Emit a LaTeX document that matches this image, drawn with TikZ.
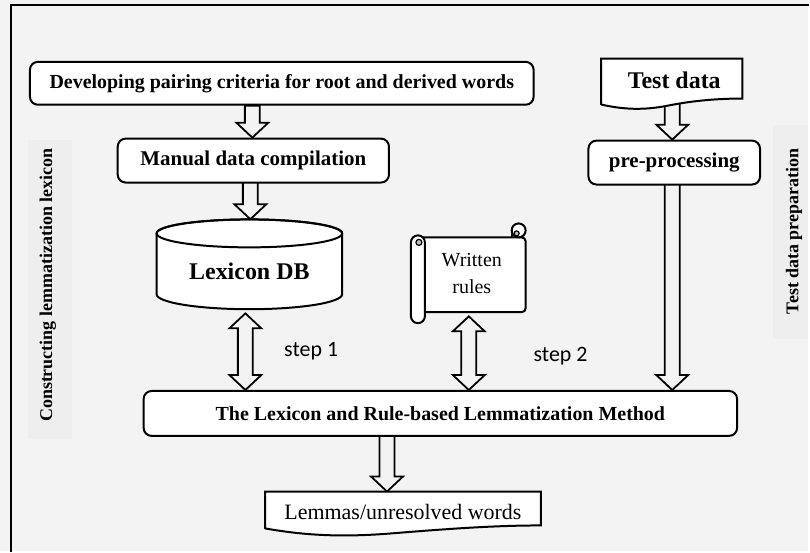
\documentclass[tikz,border=0pt]{standalone}
\usepackage{fontspec}
\setmainfont{Liberation Serif}
\newfontfamily\stepfont{Carlito}
\usetikzlibrary{calc}
\pgfdeclarelayer{bglayer}
\pgfdeclarelayer{arrlayer}
\pgfsetlayers{bglayer,arrlayer,main}
\definecolor{bgc}{HTML}{F3F3F3}
\definecolor{lblc}{HTML}{EEEEEE}
\tikzset{
  boxline/.style={draw=black, line width=2},
  mainbox/.style={boxline, rounded corners=8, fill=white, inner sep=0pt},
  blockarrow/.style={draw=black, line width=1.8, fill=bgc, line join=miter},
  sidelabel/.style={rotate=90, font=\bfseries\fontsize{18}{20}\selectfont},
  steplabel/.style={font=\stepfont\fontsize{22}{26}\selectfont},
}
% single-headed vertical block arrow from #1 down to tip #2
\newcommand{\blockdown}[2]{%
  \begin{pgfonlayer}{arrlayer}
  \draw[blockarrow] let \p1=(#1), \p2=(#2) in
    (\x1-7.5pt,\y1) -- (\x1+7.5pt,\y1) -- (\x1+7.5pt,\y2+15pt) -- (\x1+16pt,\y2+15pt)
    -- (\x1,\y2) -- (\x1-16pt,\y2+15pt) -- (\x1-7.5pt,\y2+15pt) -- cycle;
  \end{pgfonlayer}}
% double-headed vertical block arrow between tips #1 (top) and #2 (bottom)
\newcommand{\blockboth}[2]{%
  \begin{pgfonlayer}{arrlayer}
  \draw[blockarrow] let \p1=(#1), \p2=(#2) in
    (\x1,\y1) -- (\x1+16pt,\y1-15pt) -- (\x1+7.5pt,\y1-15pt) -- (\x1+7.5pt,\y2+15pt)
    -- (\x1+16pt,\y2+15pt) -- (\x1,\y2) -- (\x1-16pt,\y2+15pt) -- (\x1-7.5pt,\y2+15pt)
    -- (\x1-7.5pt,\y1-15pt) -- (\x1-16pt,\y1-15pt) -- cycle;
  \end{pgfonlayer}}
\begin{document}
\begin{tikzpicture}[x=1pt,y=-1pt]
\begin{pgfonlayer}{bglayer}
  \fill[bgc] (0,0) rectangle (810,552);
  \fill[lblc] (28,140) rectangle (72,440);
  \fill[lblc] (775,125) rectangle (810,340);
  \draw[line width=2.2] (11,553) -- (11,5) -- (811,5);
\end{pgfonlayer}
\useasboundingbox (0,0) rectangle (810,552);

% x positions of the arrows
\coordinate (xa) at (253,0);
\coordinate (xb) at (674,0);
\coordinate (xc) at (251,0);
\coordinate (xd) at (246,0);
\coordinate (xe) at (470,0);
\coordinate (xf) at (388,0);

% boxes
\node[mainbox, minimum width=505, minimum height=43,
      font=\bfseries\fontsize{20}{24}\selectfont] (dev) at (282.5,83.5)
      {Developing pairing criteria for root and derived words};
\node[mainbox, minimum width=272, minimum height=44,
      font=\bfseries\fontsize{21}{24}\selectfont] (man) at (254,161)
      {Manual data compilation};
\node[mainbox, minimum width=172, minimum height=44,
      font=\bfseries\fontsize{21}{24}\selectfont] (pre) at (676,163)
      {pre-processing};
\node[mainbox, minimum width=595, minimum height=45,
      font=\bfseries\fontsize{20}{24}\selectfont] (meth) at (441.5,414.5)
      {The Lexicon and Rule-based Lemmatization Method};

% Test data (document shape)
\node[inner sep=0, minimum width=141, minimum height=46] (test) at (673.5,82) {};
\draw[boxline, fill=white] (test.south west) -- (test.north west) -- (test.north east)
  -- ($(test.north east)+(0,40)$)
  .. controls ($(test.north east)+(-24,40)$) and ($(test.north east)+(-49,42)$) .. ($(test.north east)+(-74,47)$)
  .. controls ($(test.north east)+(-99,52)$) and ($(test.north west)+(22,51)$) .. ($(test.north west)+(0,46)$) -- cycle;
\node[font=\bfseries\fontsize{24}{28}\selectfont] (testlbl) at (676,81) {Test data};

% Lemmas (document shape)
\node[inner sep=0, minimum width=276, minimum height=37] (lem) at (404,511.5) {};
\draw[boxline, fill=white] (lem.south west) -- (lem.north west) -- (lem.north east)
  -- ($(lem.north east)+(0,34)$)
  .. controls ($(lem.north east)+(-50,34)$) and ($(lem.north east)+(-100,38)$) .. ($(lem.north east)+(-150,42)$)
  .. controls ($(lem.north east)+(-200,46)$) and ($(lem.north west)+(40,44)$) .. ($(lem.north west)+(0,37)$) -- cycle;
\node[font=\fontsize{22}{26}\selectfont] (lemlbl) at (404,513) {Lemmas/unresolved words};

% Lexicon DB (cylinder)
\node[inner sep=0, minimum width=186, minimum height=90] (lex) at (250,265) {};
\draw[boxline, fill=white] (157,234) -- (157,295)
  arc[start angle=180, end angle=0, x radius=93, y radius=15] -- (343,234)
  arc[start angle=0, end angle=-180, x radius=93, y radius=14] -- cycle;
\draw[boxline] (250,234) ellipse[x radius=93, y radius=14];
\node[font=\bfseries\fontsize{24}{28}\selectfont] (lexlbl) at (250,272) {Lexicon DB};

% Written rules (scroll)
\node[inner sep=0, minimum width=108, minimum height=75] (rules) at (473,275.5) {};
\draw[boxline, fill=white, rounded corners=4] (420,238) -- (527,238) -- (527,313) -- (420,313) -- cycle;
\draw[boxline, fill=white] (520,231) circle[radius=7];
\draw[line width=1.2, fill=black!25] (518,234) circle[radius=2.5];
\draw[boxline] (513,231) -- (513,238);
\draw[boxline, fill=white, rounded corners=7] (412,236) rectangle (426,324);
\draw[line width=1.2, fill=black!25] (420,243) circle[radius=3];
\node[align=center, font=\fontsize{20}{27}\selectfont] (ruleslbl) at (473,274) {Written\\rules};

% arrows
\blockdown{xa |- dev.south}{xa |- man.north}
\blockdown{xb |- test.center}{xb |- pre.north}
\blockdown{xc |- man.center}{xc |- lex.north}
\blockboth{$(xd |- lex.south)+(0,4)$}{xd |- meth.north}
\blockboth{$(xe |- rules.south)+(0,4)$}{xe |- meth.north}
\blockdown{xb |- pre.center}{xb |- meth.north}
\blockdown{xf |- meth.center}{xf |- lem.north}

% labels
\node[steplabel] (s1) at (312,352) {step 1};
\node[steplabel] (s2) at (562,357) {step 2};
\node[sidelabel] (lleft) at (48,286) {Constructing lemmatization lexicon};
\node[sidelabel] (lright) at (796,232) {Test data preparation};
\end{tikzpicture}
\end{document}
